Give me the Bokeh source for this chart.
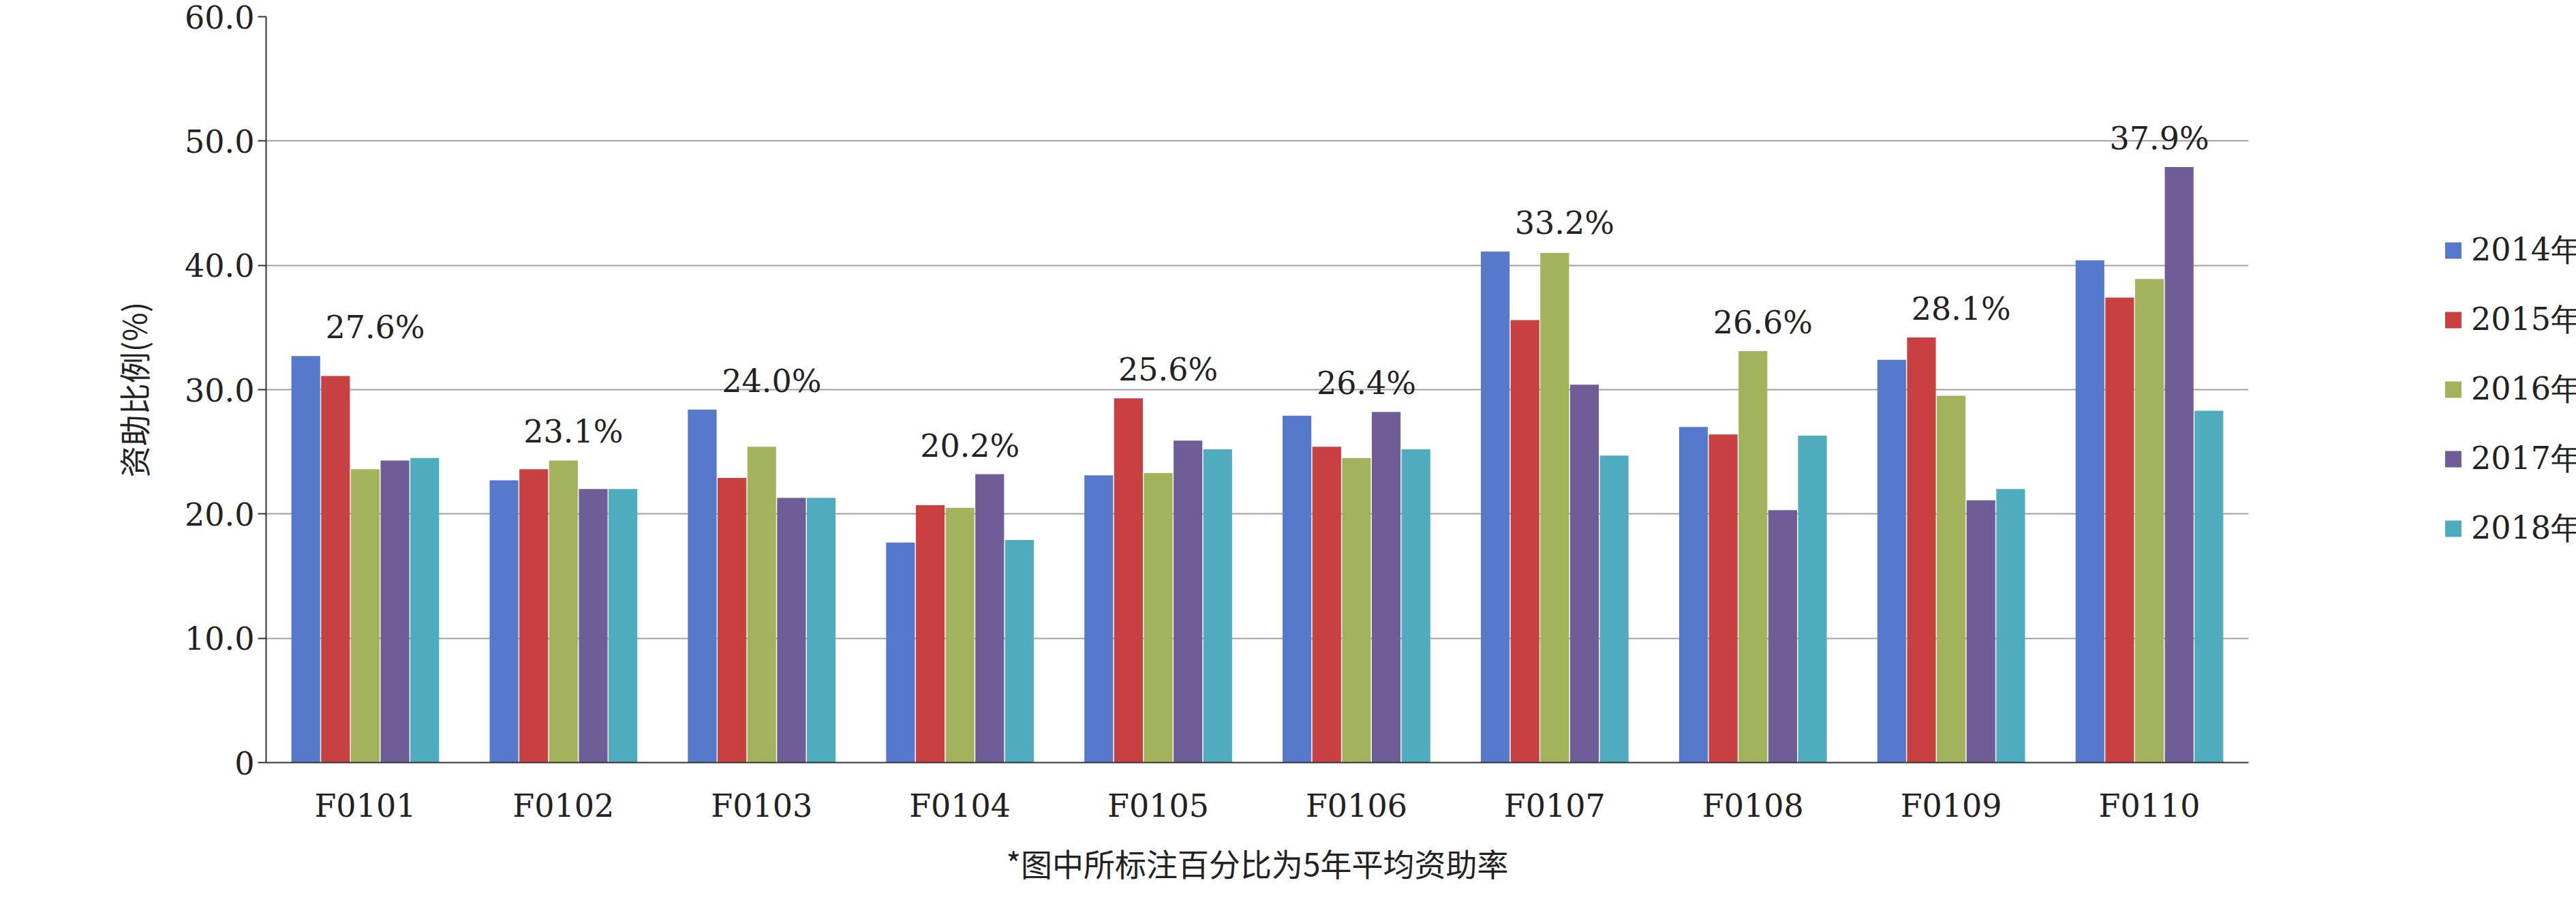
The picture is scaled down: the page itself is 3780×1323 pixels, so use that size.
from bokeh.plotting import figure
from bokeh.models import ColumnDataSource, Legend, LegendItem, CustomJSTickFormatter, FixedTicker
from bokeh.transform import dodge
from bokeh.embed import file_html
from bokeh.resources import INLINE

cats = ["F0101","F0102","F0103","F0104","F0105","F0106","F0107","F0108","F0109","F0110"]
years = ["2014年度","2015年度","2016年度","2017年度","2018年度"]
y2014 = [32.7,22.7,28.4,17.7,23.1,27.9,41.1,27.0,32.4,40.4]
y2015 = [31.1,23.6,22.9,20.7,29.3,25.4,35.6,26.4,34.2,37.4]
y2016 = [23.6,24.3,25.4,20.5,23.3,24.5,41.0,33.1,29.5,38.9]
y2017 = [24.3,22.0,21.3,23.2,25.9,28.2,30.4,20.3,21.1,47.9]
y2018 = [24.5,22.0,21.3,17.9,25.2,25.2,24.7,26.3,22.0,28.3]
avg_labels = ["27.6%","23.1%","24.0%","20.2%","25.6%","26.4%","33.2%","26.6%","28.1%","37.9%"]
colors = ["#5679CB","#C8403F","#A2B35B","#6F5D98","#4FABBE"]

series = [y2014,y2015,y2016,y2017,y2018]
data = {"cats": cats}
for i, s in enumerate(series):
    data["s%d" % i] = s
data["labely"] = [max(v) + 2.3 for v in zip(*series)]
data["lab"] = avg_labels
src = ColumnDataSource(data)

serif = "DejaVu Serif"
cjk = "Noto Sans CJK SC"
fs = "46px"

p = figure(x_range=cats, y_range=(0, 60), frame_width=2909, frame_height=1094,
           output_backend="svg", toolbar_location=None, min_border_top=24,
           min_border_left=390, min_border_right=20)
p.outline_line_color = None
items = []
for i in range(5):
    r = p.vbar(x=dodge("cats", -0.3 + 0.15 * i, range=p.x_range), top="s%d" % i,
               width=0.145, source=src, fill_color=colors[i], line_color=None)
    items.append(LegendItem(label=years[i], renderers=[r]))
p.text(x=dodge("cats", 0.05, range=p.x_range), y="labely", text="lab", source=src,
       text_align="center", text_baseline="middle", text_font_size=fs,
       text_font={"value": serif}, text_color="#222222")

p.yaxis.ticker = FixedTicker(ticks=[0,10,20,30,40,50,60])
p.yaxis.formatter = CustomJSTickFormatter(code="return tick==0 ? '0' : tick.toFixed(1);")
p.ygrid.grid_line_color = "#A0A0A0"
p.ygrid.grid_line_width = 2
p.xgrid.grid_line_color = None
for ax in (p.xaxis, p.yaxis):
    ax.major_label_text_font = serif
    ax.major_label_text_font_size = fs
    ax.major_label_text_color = "#222222"
    ax.axis_line_color = "#333333"
    ax.axis_line_width = 2
    ax.major_tick_line_color = "#333333"
    ax.major_tick_line_width = 2
    ax.minor_tick_line_color = None
    ax.axis_label_text_font = cjk
    ax.axis_label_text_font_size = fs
    ax.axis_label_text_font_style = "normal"
    ax.axis_label_text_color = "#222222"
p.yaxis.major_tick_in = 0
p.yaxis.major_tick_out = 12
p.yaxis.axis_label_standoff = 40
p.xaxis.major_tick_line_color = None
p.xaxis.major_label_standoff = 30
p.yaxis.axis_label = "资助比例(%)"
p.xaxis.axis_label = "*图中所标注百分比为5年平均资助率"
p.xaxis.axis_label_standoff = 20

leg = Legend(items=items, location="center", label_text_font=serif,
             label_text_font_size=fs, label_text_color="#222222",
             border_line_color=None, glyph_width=30, glyph_height=30,
             spacing=40, label_standoff=12, margin=50)
p.add_layout(leg, "right")

open("out.html", "w").write(file_html(p, INLINE))
